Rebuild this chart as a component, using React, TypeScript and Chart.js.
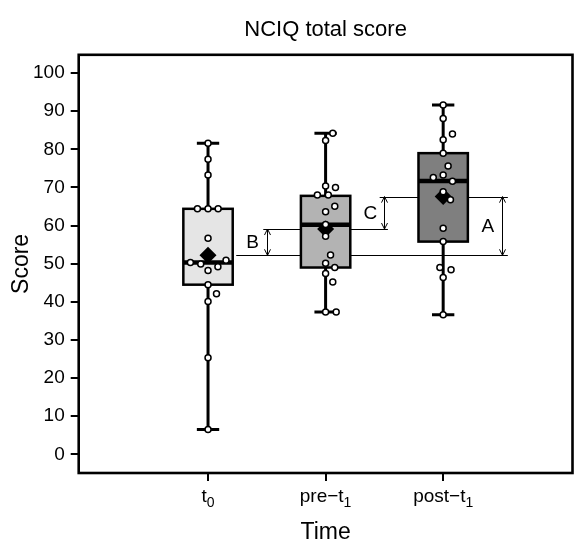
import { useEffect, useRef } from 'react';
import { Chart, registerables } from 'chart.js';

Chart.register(...registerables);

const FONT = '"Liberation Sans", Arial, Helvetica, sans-serif';

// ---- data ----
const chartTitle = 'NCIQ total score';
const xTitle = 'Time';
const yTitle = 'Score';
const categories = ['t0', 'pre-t1', 'post-t1'];
const categoryBase = ['t', 'pre\u2212t', 'post\u2212t'];
const categorySub = ['0', '1', '1'];
const categoryX = [1, 2, 3];
const yTicks = [0, 10, 20, 30, 40, 50, 60, 70, 80, 90, 100];

const boxMin = [6.5, 37.3, 36.6];
const boxQ1 = [44.5, 49.0, 55.8];
const boxMedian = [50.3, 60.2, 71.7];
const boxQ3 = [64.4, 67.8, 79.0];
const boxMax = [81.6, 84.2, 91.6];
const groupMean = [52.2, 59.1, 67.6];

const t0Scores = [81.6, 77.4, 73.3, 64.4, 64.4, 64.4, 56.7, 50.3, 49.9, 48.2, 49.2, 50.9, 44.5, 42.1, 40.1, 25.3, 6.5];
const t0Jitter = [0, 0, 0, -0.09, 0, 0.086, 0, -0.15, -0.062, 0, 0.084, 0.153, 0, 0.072, 0, 0, 0];
const preScores = [84.2, 82.3, 70.4, 70.0, 68.0, 68.0, 65.1, 63.6, 60.3, 57.2, 52.3, 50.1, 49.0, 47.4, 45.2, 37.3, 37.3];
const preJitter = [0.061, 0, 0, 0.084, -0.07, 0.023, 0.078, 0, 0, 0, 0.042, 0, 0.078, 0, 0.061, 0, 0.09];
const postScores = [91.6, 88.1, 84.0, 82.5, 79.0, 75.6, 73.3, 72.6, 71.6, 68.9, 66.8, 59.3, 55.8, 49.0, 48.4, 46.4, 36.6];
const postJitter = [0, 0, 0.079, 0, 0, 0.042, 0, -0.084, 0.079, 0, 0.062, 0, 0, -0.028, 0.067, 0, 0];

const annotLabels = ['B', 'C', 'A'];
const annotFrom = [0, 1, 0];
const annotTo = [1, 2, 2];
const arrowX = [1.5, 2.5, 3.5];
const labelX = [1.38, 2.38, 3.38];
const refLineStart = [1.24, 1.47, 2.46];
const refLineEnd = [3.55, 2.53, 3.55];

// ---- styles ----
const boxFill = ['#e5e5e5', '#b3b3b3', '#7f7f7f'];
const BOX_HALF = 0.21;
const CAP_HALF = 0.095;

const boxPlugin = {
  id: 'boxes',
  beforeDatasetsDraw(chart: any) {
    const { ctx, chartArea: ca, scales } = chart;
    const x = scales.x;
    const y = scales.y;
    ctx.save();
    ctx.beginPath();
    ctx.rect(ca.left, ca.top, ca.right - ca.left, ca.bottom - ca.top);
    ctx.clip();
    // reference lines at group means
    ctx.strokeStyle = '#000';
    ctx.lineWidth = 1;
    for (let i = 0; i < groupMean.length; i++) {
      const yy = Math.round(y.getPixelForValue(groupMean[i])) + 0.5;
      ctx.beginPath();
      ctx.moveTo(x.getPixelForValue(refLineStart[i]), yy);
      ctx.lineTo(x.getPixelForValue(refLineEnd[i]), yy);
      ctx.stroke();
    }
    // boxes
    for (let i = 0; i < categoryX.length; i++) {
      const cx = x.getPixelForValue(categoryX[i]);
      const hw = x.getPixelForValue(categoryX[i] + BOX_HALF) - cx;
      const cw = x.getPixelForValue(categoryX[i] + CAP_HALF) - cx;
      const yMin = y.getPixelForValue(boxMin[i]);
      const yMax = y.getPixelForValue(boxMax[i]);
      const yQ1 = y.getPixelForValue(boxQ1[i]);
      const yQ3 = y.getPixelForValue(boxQ3[i]);
      const yMed = y.getPixelForValue(boxMedian[i]);
      ctx.strokeStyle = '#000';
      ctx.lineWidth = 3;
      ctx.beginPath();
      ctx.moveTo(cx, yMax);
      ctx.lineTo(cx, yMin);
      ctx.moveTo(cx - cw, yMax);
      ctx.lineTo(cx + cw, yMax);
      ctx.moveTo(cx - cw, yMin);
      ctx.lineTo(cx + cw, yMin);
      ctx.stroke();
      ctx.fillStyle = boxFill[i];
      ctx.fillRect(cx - hw, yQ3, 2 * hw, yQ1 - yQ3);
      ctx.lineWidth = 2.5;
      ctx.strokeRect(cx - hw, yQ3, 2 * hw, yQ1 - yQ3);
      ctx.lineWidth = 4.5;
      ctx.beginPath();
      ctx.moveTo(cx - hw, yMed);
      ctx.lineTo(cx + hw, yMed);
      ctx.stroke();
    }
    ctx.restore();
  },
  afterDatasetsDraw(chart: any) {
    const { ctx, scales } = chart;
    const x = scales.x;
    const y = scales.y;
    ctx.save();
    // arrows and letters
    ctx.strokeStyle = '#000';
    ctx.fillStyle = '#000';
    ctx.lineWidth = 1;
    for (let i = 0; i < annotLabels.length; i++) {
      const ax = Math.round(x.getPixelForValue(arrowX[i])) + 0.5;
      const y1 = y.getPixelForValue(groupMean[annotFrom[i]]);
      const y2 = y.getPixelForValue(groupMean[annotTo[i]]);
      const top = Math.min(y1, y2);
      const bot = Math.max(y1, y2);
      ctx.beginPath();
      ctx.moveTo(ax, top);
      ctx.lineTo(ax, bot);
      ctx.moveTo(ax - 3, top + 6);
      ctx.lineTo(ax, top);
      ctx.lineTo(ax + 3, top + 6);
      ctx.moveTo(ax - 3, bot - 6);
      ctx.lineTo(ax, bot);
      ctx.lineTo(ax + 3, bot - 6);
      ctx.stroke();
      ctx.font = `19px ${FONT}`;
      ctx.textAlign = 'center';
      ctx.textBaseline = 'middle';
      ctx.fillText(annotLabels[i], x.getPixelForValue(labelX[i]), (top + bot) / 2 + 1);
    }
    ctx.restore();
  },
  afterDraw(chart: any) {
    const { ctx, chartArea: ca, scales } = chart;
    const x = scales.x;
    ctx.save();
    // frame
    ctx.strokeStyle = '#000';
    ctx.lineWidth = 2.6;
    ctx.strokeRect(ca.left, ca.top, ca.right - ca.left, ca.bottom - ca.top);
    // title
    ctx.fillStyle = '#000';
    ctx.font = `22px ${FONT}`;
    ctx.textAlign = 'center';
    ctx.textBaseline = 'alphabetic';
    ctx.fillText(chartTitle, (ca.left + ca.right) / 2, 36);
    // x tick labels with subscripts
    for (let i = 0; i < categories.length; i++) {
      const cx = x.getPixelForValue(categoryX[i]);
      ctx.font = `19px ${FONT}`;
      const wBase = ctx.measureText(categoryBase[i]).width;
      ctx.font = `14px ${FONT}`;
      const wSub = ctx.measureText(categorySub[i]).width;
      const start = cx - (wBase + wSub) / 2;
      ctx.textAlign = 'left';
      ctx.font = `19px ${FONT}`;
      ctx.fillText(categoryBase[i], start, 501.5);
      ctx.font = `14px ${FONT}`;
      ctx.fillText(categorySub[i], start + wBase, 506.5);
    }
    ctx.restore();
  },
};

export default function App() {
  const ref = useRef<HTMLCanvasElement>(null);
  useEffect(() => {
    const canvas = ref.current!;
    const groups = [t0Scores, preScores, postScores];
    const jit = [t0Jitter, preJitter, postJitter];
    const pointData = groups.flatMap((arr, g) => arr.map((v, i) => ({ x: categoryX[g] + jit[g][i], y: v })));
    const meanData = groupMean.map((m, g) => ({ x: categoryX[g], y: m }));
    const chart = new Chart(canvas, {
      type: 'scatter',
      data: {
        datasets: [
          {
            label: 'Scores',
            data: pointData,
            order: 0,
            pointRadius: 3,
            pointHoverRadius: 3,
            pointBackgroundColor: '#ffffff',
            pointBorderColor: '#000000',
            pointBorderWidth: 1.5,
          },
          {
            label: 'Mean',
            data: meanData,
            order: 1,
            pointStyle: 'rectRot',
            pointRadius: 8.5,
            pointHoverRadius: 8.5,
            pointBackgroundColor: '#000000',
            pointBorderColor: '#000000',
            pointBorderWidth: 0,
          },
        ],
      },
      options: {
        responsive: false,
        animation: false,
        devicePixelRatio: 1,
        events: [],
        layout: { padding: { top: 54.8, right: 0.5, bottom: 0, left: 0 } },
        plugins: { legend: { display: false }, title: { display: false }, tooltip: { enabled: false } },
        scales: {
          x: {
            type: 'linear',
            min: -0.1,
            max: 4.1,
            afterBuildTicks: (s: any) => {
              s.ticks = categoryX.map((v) => ({ value: v }));
            },
            afterFit: (s: any) => {
              s.height = 73;
            },
            ticks: { autoSkip: false, callback: () => '', font: { size: 19, family: FONT } },
            grid: { display: true, drawOnChartArea: false, drawTicks: true, tickLength: 8, tickColor: '#000', tickWidth: 2, lineWidth: 2 },
            border: { display: false },
            title: { display: true, text: xTitle, color: '#000', font: { size: 23, family: FONT }, padding: { top: 3, bottom: 0 } },
          },
          y: {
            type: 'linear',
            min: -4.9,
            max: 104.8,
            afterBuildTicks: (s: any) => {
              s.ticks = yTicks.map((v) => ({ value: v }));
            },
            afterFit: (s: any) => {
              s.width = 78.7;
            },
            ticks: { autoSkip: false, color: '#000', padding: 6, font: { size: 19, family: FONT } },
            grid: { display: true, drawOnChartArea: false, drawTicks: true, tickLength: 8, tickColor: '#000', tickWidth: 2, lineWidth: 2 },
            border: { display: false },
            title: { display: true, text: yTitle, color: '#000', font: { size: 23, family: FONT }, padding: { top: 8, bottom: 0 } },
          },
        },
      },
      plugins: [boxPlugin],
    } as any);
    return () => chart.destroy();
  }, []);
  return (
    <div style={{ position: 'absolute', left: 0, top: 0, width: 581, height: 546 }}>
      <canvas ref={ref} width={581} height={546} style={{ display: 'block' }} />
    </div>
  );
}
